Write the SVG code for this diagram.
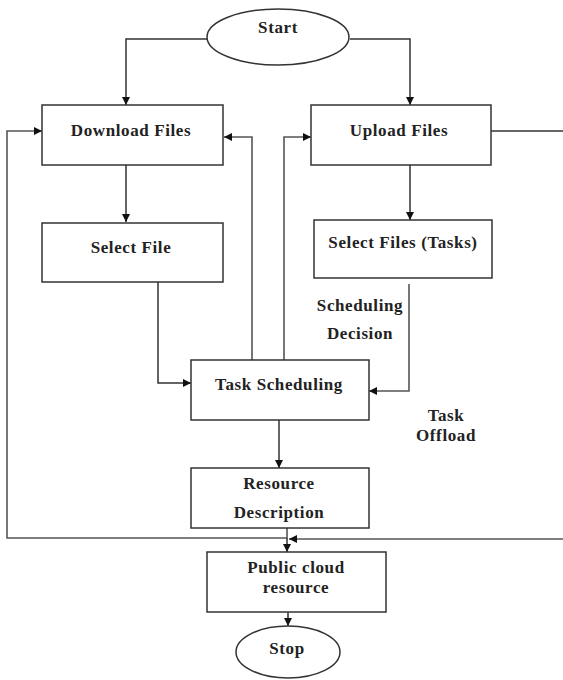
<svg xmlns="http://www.w3.org/2000/svg" width="563" height="680" viewBox="0 0 563 680">
<style>
.n{fill:#fff;stroke:#333;stroke-width:1.5}
.t{font-family:"Liberation Serif","Times New Roman",serif;font-weight:bold;font-size:17px;letter-spacing:0.6px;fill:#222;text-anchor:middle}
.c{fill:none;stroke:#333;stroke-width:1.5}
.g{fill:none;stroke:#555;stroke-width:1.6}
</style>
<defs>
<marker id="a" viewBox="0 0 10 10" refX="10" refY="5" markerWidth="8" markerHeight="8" markerUnits="userSpaceOnUse" orient="auto"><path d="M0,0L10,5L0,10z" fill="#111"/></marker>
</defs>
<rect width="563" height="680" fill="#fff"/>
<g id="connectors">
<path class="c" d="M207,39H126V105" marker-end="url(#a)"/>
<path class="c" d="M350,39H410V105" marker-end="url(#a)"/>
<path class="c" d="M491,131H563"/>
<path class="c" d="M126,165V222" marker-end="url(#a)"/>
<path class="c" d="M410,165V220" marker-end="url(#a)"/>
<path class="c" d="M158,282V383H191" marker-end="url(#a)"/>
<path class="g" d="M409,284V391H369" marker-end="url(#a)"/>
<path class="g" d="M252,360V137H224" marker-end="url(#a)"/>
<path class="g" d="M284,360V137H311" marker-end="url(#a)"/>
<path class="c" d="M279,420V468" marker-end="url(#a)"/>
<path class="g" d="M287,528V538H7V131H42" marker-end="url(#a)"/>
<path class="c" d="M287,538V552" marker-end="url(#a)"/>
<path class="g" d="M563,539H289" marker-end="url(#a)"/>
<path class="c" d="M288,612V626" marker-end="url(#a)"/>
</g>
<g id="start"><ellipse class="n" cx="278" cy="37" rx="71" ry="28"/><text class="t" x="278" y="33">Start</text></g>
<g id="download"><rect class="n" x="42" y="105" width="181" height="60"/><text class="t" x="131" y="136">Download Files</text></g>
<g id="upload"><rect class="n" x="311" y="105" width="180" height="60"/><text class="t" x="399" y="136">Upload Files</text></g>
<g id="selectfile"><rect class="n" x="42" y="223" width="181" height="59"/><text class="t" x="131" y="253">Select File</text></g>
<g id="selectfiles"><rect class="n" x="314" y="220" width="178" height="58"/><text class="t" x="403" y="248">Select Files (Tasks)</text></g>
<g id="taskscheduling"><rect class="n" x="191" y="360" width="178" height="60"/><text class="t" x="279" y="390">Task Scheduling</text></g>
<g id="resource"><rect class="n" x="191" y="468" width="178" height="60"/><text class="t" x="279" y="489">Resource</text><text class="t" x="279" y="518">Description</text></g>
<g id="public"><rect class="n" x="207" y="552" width="179" height="60"/><text class="t" x="296" y="573">Public cloud</text><text class="t" x="296" y="593">resource</text></g>
<g id="stop"><ellipse class="n" cx="288" cy="652" rx="52" ry="26"/><text class="t" x="287" y="654">Stop</text></g>
<g id="labels">
<text class="t" x="360" y="311">Scheduling</text>
<text class="t" x="360" y="339">Decision</text>
<text class="t" x="446" y="421">Task</text>
<text class="t" x="446" y="441">Offload</text>
</g>
</svg>
